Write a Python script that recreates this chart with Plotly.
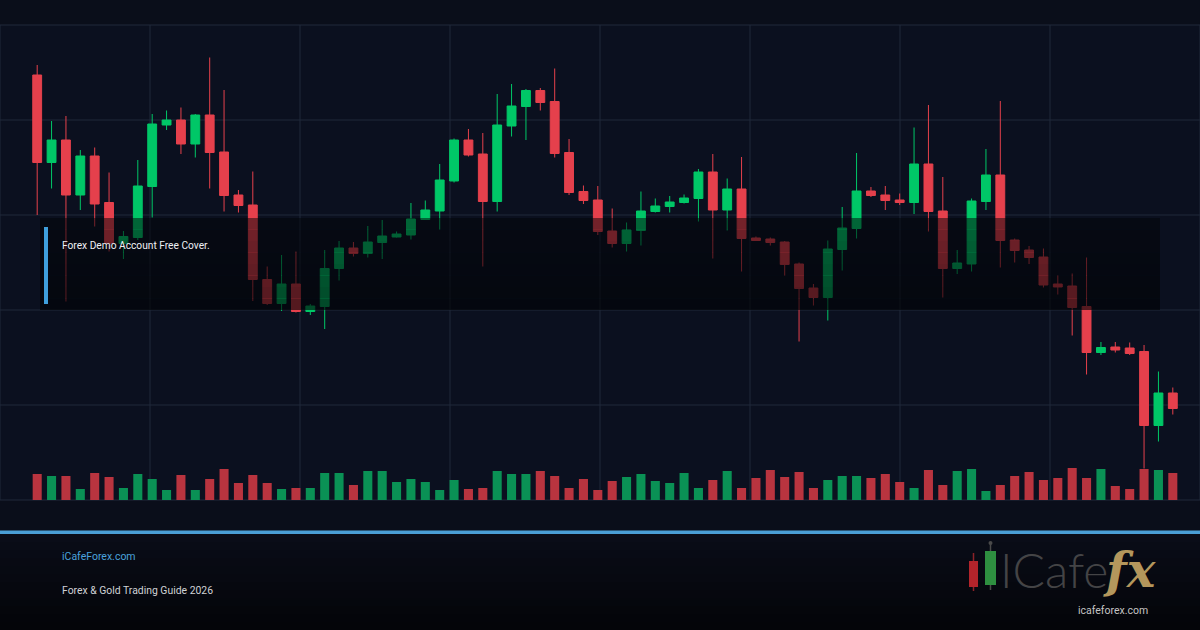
import plotly.graph_objects as go

# ---------------- data ----------------
opens = [2385.0, 2367.5, 2372.0, 2361.0, 2368.8, 2359.5, 2351.3, 2352.5, 2362.7, 2375.0,
         2376.0, 2371.2, 2377.0, 2369.6, 2361.0, 2359.0, 2344.1, 2339.3, 2343.2, 2337.7,
         2338.7, 2346.3, 2350.4, 2349.3, 2351.5, 2352.6, 2353.0, 2356.1, 2357.8, 2363.8,
         2372.0, 2369.2, 2359.7, 2374.8, 2378.7, 2381.9, 2379.7, 2369.5, 2361.7, 2360.0,
         2353.8, 2351.3, 2353.9, 2357.7, 2358.7, 2359.5, 2360.3, 2365.6, 2358.0, 2362.2,
         2352.4, 2352.2, 2351.6, 2347.2, 2342.4, 2340.5, 2350.1, 2354.3, 2361.8, 2361.0,
         2360.0, 2359.5, 2367.2, 2357.8, 2346.3, 2347.2, 2359.7, 2365.0, 2352.0, 2350.0,
         2348.6, 2343.2, 2342.8, 2338.7, 2329.5, 2330.6, 2330.4, 2329.7, 2314.9, 2321.4]

highs = [2387.0, 2375.8, 2376.8, 2370.0, 2370.5, 2365.5, 2353.8, 2368.0, 2377.2, 2377.9,
         2378.5, 2377.2, 2388.5, 2382.0, 2362.0, 2365.7, 2346.7, 2349.0, 2349.7, 2339.2,
         2350.0, 2351.8, 2351.6, 2354.8, 2356.0, 2353.7, 2359.4, 2359.9, 2367.2, 2372.3,
         2374.2, 2373.4, 2381.2, 2383.2, 2382.2, 2382.4, 2386.3, 2372.2, 2362.9, 2362.8,
         2358.3, 2355.5, 2361.7, 2360.3, 2360.8, 2361.1, 2366.2, 2369.2, 2364.3, 2368.6,
         2352.7, 2352.5, 2351.8, 2347.5, 2343.2, 2351.9, 2358.6, 2369.4, 2362.6, 2362.8,
         2361.3, 2374.5, 2379.0, 2364.6, 2350.0, 2360.3, 2370.2, 2379.8, 2352.3, 2350.8,
         2350.3, 2344.9, 2345.3, 2348.5, 2331.6, 2331.6, 2331.5, 2331.0, 2325.7, 2322.5]

lows = [2357.0, 2362.3, 2339.7, 2358.0, 2354.7, 2349.7, 2348.2, 2352.0, 2356.5, 2374.0,
        2369.2, 2368.5, 2362.3, 2357.7, 2357.5, 2339.8, 2339.0, 2337.8, 2337.5, 2337.0,
        2334.2, 2343.9, 2348.7, 2348.5, 2348.2, 2352.5, 2352.1, 2356.0, 2354.1, 2363.5,
        2368.7, 2346.7, 2357.7, 2372.7, 2372.0, 2377.9, 2368.5, 2361.0, 2359.2, 2353.0,
        2350.5, 2349.7, 2350.9, 2357.5, 2357.5, 2359.3, 2355.7, 2348.3, 2353.9, 2345.7,
        2351.8, 2350.9, 2344.9, 2331.7, 2338.9, 2335.9, 2345.9, 2352.3, 2360.6, 2358.0,
        2359.0, 2357.2, 2353.7, 2340.5, 2345.2, 2345.7, 2358.0, 2346.5, 2347.5, 2347.2,
        2342.5, 2341.1, 2332.9, 2325.1, 2329.0, 2329.5, 2329.0, 2306.3, 2311.7, 2317.1]

closes = [2367.5, 2372.0, 2361.0, 2368.8, 2359.2, 2351.3, 2352.7, 2362.8, 2375.2, 2376.0,
          2371.2, 2377.0, 2369.5, 2360.9, 2358.9, 2344.1, 2339.3, 2343.2, 2337.7, 2338.8,
          2346.3, 2350.4, 2349.3, 2351.6, 2352.8, 2353.2, 2356.2, 2358.0, 2364.0, 2372.0,
          2369.0, 2359.7, 2375.0, 2378.8, 2381.9, 2379.5, 2369.3, 2361.5, 2359.9, 2353.7,
          2351.3, 2354.0, 2357.8, 2358.8, 2359.6, 2360.4, 2365.6, 2358.0, 2362.2, 2352.3,
          2351.9, 2351.5, 2347.1, 2342.3, 2340.5, 2350.2, 2354.4, 2361.8, 2360.9, 2359.9,
          2359.5, 2367.2, 2357.7, 2346.3, 2347.4, 2359.8, 2365.0, 2351.9, 2349.9, 2348.5,
          2343.0, 2342.6, 2338.5, 2329.5, 2330.5, 2330.0, 2329.3, 2314.9, 2321.4, 2318.3]

volumes = [2600, 2400, 2400, 1100, 2700, 2300, 1200, 2600, 2100, 1000,
           2500, 1000, 2100, 3100, 1700, 2500, 1700, 1100, 1200, 1200,
           2700, 2700, 1500, 2900, 2900, 1800, 2100, 1800, 1000, 2000,
           1100, 1200, 2900, 2600, 2600, 2900, 2400, 1200, 2100, 1000,
           1900, 2300, 2600, 1900, 1700, 2700, 1200, 2000, 2900, 1200,
           2200, 3000, 2300, 2800, 1200, 2000, 2400, 2400, 2200, 2600,
           1800, 1200, 3000, 1500, 2900, 3100, 900, 1500, 2400, 2800,
           2000, 2200, 3200, 2200, 3100, 1400, 1100, 3100, 3000, 2700]

overlay_title = "Forex Demo Account Free Cover."
footer_site = "iCafeForex.com"
footer_title = "Forex & Gold Trading Guide 2026"
logo_word = "ICafe"
logo_fx = "fx"
logo_url = "icafeforex.com"

# ---------------- layout constants ----------------
W, H = 1200, 630
PLOT_TOP, PLOT_BOTTOM = 25, 500
SLOT = 14.375
X_START = 30
PRICE_MIN, PRICE_MAX = 2300, 2395
VOL_MAX = 47500

UP = "#00c767"
DOWN = "#e5404c"
UP_VOL = "#0a9155"
DOWN_VOL = "#b9343f"

x = list(range(len(opens)))
x_lo = -X_START / SLOT - 0.5
x_hi = (W - X_START) / SLOT - 0.5


def fx(px):
    return px / W


def fy(py):
    return (PLOT_BOTTOM - py) / (PLOT_BOTTOM - PLOT_TOP)


vol_colors = [UP_VOL if c >= o else DOWN_VOL for o, c in zip(opens, closes)]

fig = go.Figure()
fig.add_trace(go.Bar(x=x, y=volumes, yaxis="y2", marker=dict(color=vol_colors, line=dict(width=0)),
                     width=0.63, hoverinfo="skip", showlegend=False))
fig.add_trace(go.Candlestick(
    x=x, open=opens, high=highs, low=lows, close=closes,
    increasing=dict(line=dict(color=UP, width=1), fillcolor=UP),
    decreasing=dict(line=dict(color=DOWN, width=1), fillcolor=DOWN),
    whiskerwidth=0, showlegend=False,
))

shapes = []
grid_col = "#20283a"
for py in [25, 120, 215, 310, 405, 500]:
    shapes.append(dict(type="line", xref="paper", yref="paper", x0=0, x1=1, y0=fy(py), y1=fy(py),
                       line=dict(color=grid_col, width=1), layer="below"))
for pxv in range(0, 1201, 150):
    shapes.append(dict(type="line", xref="paper", yref="paper", x0=fx(pxv), x1=fx(pxv), y0=0, y1=1,
                       line=dict(color=grid_col, width=1), layer="below"))

# dark overlay box with a vertical gradient
box_top, box_bot = 218, 310
n_bands = 8
for k in range(n_bands):
    y0 = box_top + (box_bot - box_top) * k / n_bands
    y1 = box_top + (box_bot - box_top) * (k + 1) / n_bands
    a = 0.50 + 0.14 * k / (n_bands - 1)
    shapes.append(dict(type="rect", xref="paper", yref="paper", x0=fx(40), x1=fx(1160),
                       y0=fy(y1), y1=fy(y0), fillcolor=f"rgba(2,3,7,{a:.3f})", line=dict(width=0),
                       layer="above"))
# accent bar
shapes.append(dict(type="rect", xref="paper", yref="paper", x0=fx(44), x1=fx(48), y0=fy(304), y1=fy(227),
                   fillcolor="#3f9fdc", line=dict(width=0), layer="above"))

# footer background gradient
f_top, f_bot = 534, 630
n_f = 12
for k in range(n_f):
    y0 = f_top + (f_bot - f_top) * k / n_f
    y1 = f_top + (f_bot - f_top) * (k + 1) / n_f
    t = k / (n_f - 1)
    r = int(10 - 6 * t); g = int(13 - 8 * t); b = int(24 - 15 * t)
    shapes.append(dict(type="rect", xref="paper", yref="paper", x0=0, x1=1,
                       y0=fy(y1 + 0.5), y1=fy(y0), fillcolor=f"rgb({r},{g},{b})", line=dict(width=0),
                       layer="below"))
# blue separator
shapes.append(dict(type="rect", xref="paper", yref="paper", x0=0, x1=1, y0=fy(534), y1=fy(530.5),
                   fillcolor="#4a9fd6", line=dict(width=0), layer="above"))

# logo candles
shapes.append(dict(type="line", xref="paper", yref="paper", x0=fx(973.5), x1=fx(973.5), y0=fy(591), y1=fy(553),
                   line=dict(color="#8c2228", width=1.5), layer="above"))
shapes.append(dict(type="rect", xref="paper", yref="paper", x0=fx(969), x1=fx(978), y0=fy(587), y1=fy(561),
                   fillcolor="#b3242b", line=dict(width=0), layer="above"))
shapes.append(dict(type="line", xref="paper", yref="paper", x0=fx(990.5), x1=fx(990.5), y0=fy(590), y1=fy(543),
                   line=dict(color="#4a4a4a", width=1.5), layer="above"))
shapes.append(dict(type="circle", xref="paper", yref="paper", x0=fx(988.5), x1=fx(992.5), y0=fy(545), y1=fy(541),
                   fillcolor="#4a4a4a", line=dict(width=0), layer="above"))
shapes.append(dict(type="rect", xref="paper", yref="paper", x0=fx(985), x1=fx(996), y0=fy(585), y1=fy(551),
                   fillcolor="#2e8f40", line=dict(width=0), layer="above"))

annotations = [
    dict(text=overlay_title, x=fx(60), y=fy(245.5), xref="paper", yref="paper", xanchor="left", yanchor="middle",
         showarrow=False, font=dict(family="Roboto", size=10.2, color="#eef0f4")),
    dict(text=footer_site, x=fx(60), y=fy(556), xref="paper", yref="paper", xanchor="left", yanchor="middle",
         showarrow=False, font=dict(family="Roboto", size=10.5, color="#4aa2dc")),
    dict(text=footer_title, x=fx(60), y=fy(590), xref="paper", yref="paper", xanchor="left", yanchor="middle",
         showarrow=False, font=dict(family="Roboto", size=10.4, color="#d0d2d6")),
    dict(text=logo_word, x=fx(998), y=fy(569), xref="paper", yref="paper", xanchor="left", yanchor="middle",
         showarrow=False, font=dict(family="Lato", size=48, color="#444446", weight=300)),
    dict(text=logo_fx, x=fx(1101), y=fy(570), xref="paper", yref="paper", xanchor="left", yanchor="middle",
         showarrow=False, font=dict(family="DejaVu Serif", size=48, color="#b4975c", weight="bold", style="italic")),
    dict(text=logo_url, x=fx(1113), y=fy(610), xref="paper", yref="paper", xanchor="center", yanchor="middle",
         showarrow=False, font=dict(family="Roboto", size=10.5, color="#c4c4c4")),
]

fig.update_layout(
    width=W, height=H,
    margin=dict(l=0, r=0, t=PLOT_TOP, b=H - PLOT_BOTTOM, pad=0),
    paper_bgcolor="#0a0e1a",
    plot_bgcolor="#0b101f",
    boxgap=0.12,
    showlegend=False,
    xaxis=dict(range=[x_lo, x_hi], visible=False, showgrid=False, zeroline=False,
               rangeslider=dict(visible=False), fixedrange=True),
    yaxis=dict(range=[PRICE_MIN, PRICE_MAX], visible=False, showgrid=False, zeroline=False, fixedrange=True),
    yaxis2=dict(range=[0, VOL_MAX], overlaying="y", visible=False, showgrid=False, zeroline=False,
                fixedrange=True),
    shapes=shapes,
    annotations=annotations,
    hovermode=False,
)

fig.write_html("out.html", config={"displayModeBar": False})
